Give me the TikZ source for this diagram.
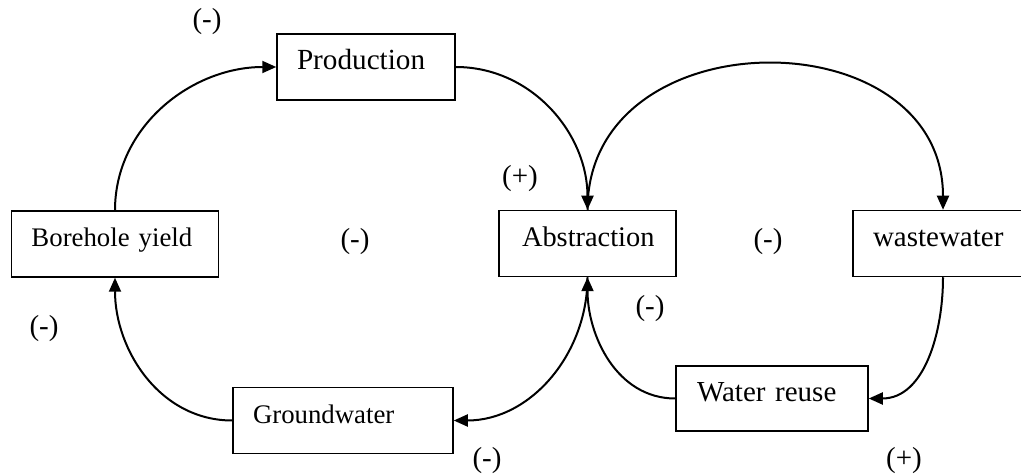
\documentclass[tikz,border=0pt]{standalone}
\usepackage{fontspec}
\setmainfont{Liberation Serif}
\usetikzlibrary{arrows.meta,calc}
\begin{document}
\begin{tikzpicture}[x=0.5pt,y=-0.5pt,
  box/.style={draw,line width=0.75pt,minimum height=33pt,inner xsep=10pt,inner ysep=0pt,
    align=left,text height=10pt,text depth=7pt,font=\fontsize{14.5}{16}\selectfont,
    execute at begin node={\hbox to \linewidth\bgroup},
    execute at end node={\hss\egroup}},
  smalltext/.style={font=\fontsize{13.4}{15}\selectfont},
  sign/.style={inner sep=0pt,font=\fontsize{14.5}{16}\selectfont},
  link/.style={line width=1pt,-{Triangle[length=7pt,width=6pt]}}]
\useasboundingbox (0,0) rectangle (1021,475);
\node[box,text width=69pt,font=\fontsize{14.6}{16}\selectfont] (prod) at (366,67) {Production};
\node[box,smalltext,text width=83.5pt] (bore) at (115,244) {Borehole yield};
\node[box,text width=65.5pt,inner xsep=11.5pt,font=\fontsize{14.2}{16}\selectfont] (abs) at (587.5,243.5) {Abstraction};
\node[box,text width=70pt] (ww) at (943,243.5) {wastewater};
\node[box,smalltext,text width=90pt] (gw) at (343,420.5) {Groundwater};
\node[box,text width=75pt,inner xsep=10.5pt,minimum height=32.5pt] (wr) at (772,398.5) {Water reuse};
\node[sign] (s1) at (207,22) {(-)};
\node[sign] (s2) at (520,179) {(+)};
\node[sign] (s3) at (355,242) {(-)};
\node[sign] (s4) at (768,242) {(-)};
\node[sign] (s5) at (44,329) {(-)};
\node[sign] (s6) at (650,309) {(-)};
\node[sign] (s7) at (487,461) {(-)};
\node[sign] (s8) at (904,461) {(+)};
\draw[link] (bore.north) to[out=90,in=180] (prod.west);
\draw[link] (prod.east) to[out=0,in=90] (abs.north);
\draw[link] (abs.north) .. controls +(0,-194) and +(0,-194) .. (ww.north);
\draw[link] (ww.south) to[out=-90,in=0] (wr.east);
\draw[link] (wr.west) to[out=180,in=-90] (abs.south);
\draw[link] (abs.south) to[out=-90,in=0] (gw.east);
\draw[link] (gw.west) to[out=180,in=-90] (bore.south);
\end{tikzpicture}
\end{document}
